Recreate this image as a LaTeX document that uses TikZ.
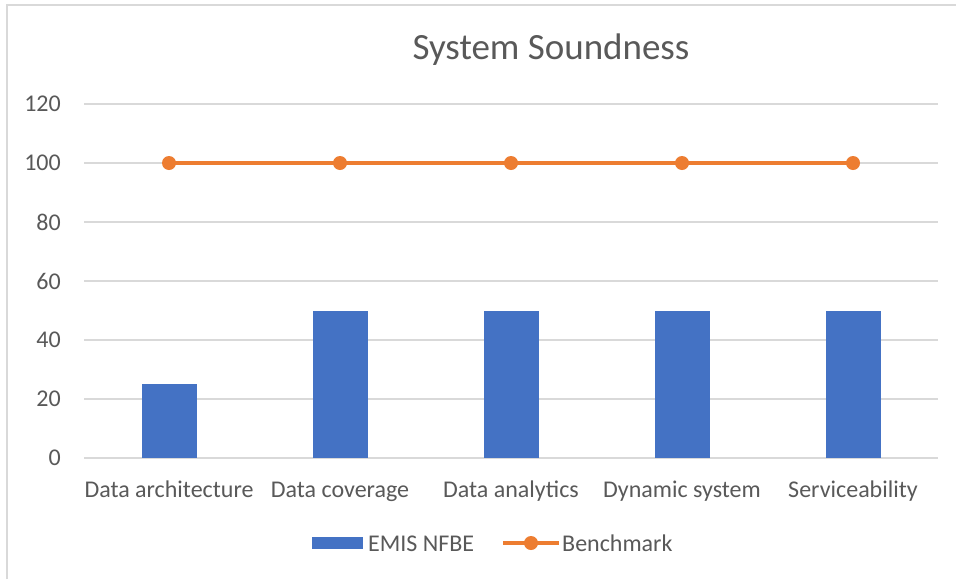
\documentclass[tikz,border=0pt]{standalone}
\usepackage{fontspec}
\setmainfont{Carlito}
\usepackage{xcolor}
\definecolor{barblue}{RGB}{68,114,196}
\definecolor{benchorange}{RGB}{237,125,49}
\definecolor{gridgray}{RGB}{217,217,217}
\definecolor{textgray}{RGB}{89,89,89}

\begin{document}
\begin{tikzpicture}[x=1pt,y=-1pt,
  lbl/.style={text=textgray,font=\fontsize{24}{28}\selectfont,inner sep=0pt},
  marker/.style={circle,fill=benchorange,minimum size=14pt,inner sep=0pt}]

% Frame
\useasboundingbox (0,0) rectangle (956,579);
\fill[white] (0,0) rectangle (956,579);
\draw[gridgray,line width=2pt] (7,579) -- (7,5) -- (956,5);

% Title
\node[lbl,font=\fontsize{37}{42}\selectfont] (title) at (551,50) {System Soundness};

% Y-axis ticks + grid lines
\foreach \v in {0,20,...,120} {
    \pgfmathsetmacro{\yy}{458-2.95*\v}
    \draw[gridgray,line width=1.3pt] (84,\yy) -- (938,\yy);
    \node[lbl,anchor=east] (tick\v) at (61,\yy) {\v};
}

% Bars (EMIS NFBE)
\def\bw{27.5}
\foreach \i/\x/\v in {1/169/25,2/340/50,3/511/50,4/682/50,5/853/50} {
    \fill[barblue] (\x-\bw,458) rectangle (\x+\bw,{458-2.95*\v});
}

% Benchmark line
\foreach \i/\x in {1/169,2/340,3/511,4/682,5/853} {
    \coordinate (b\i) at (\x,163);
}
\draw[benchorange,line width=4pt] (b1) -- (b2) -- (b3) -- (b4) -- (b5);
\foreach \i in {1,...,5} {
    \node[marker] (m\i) at (b\i) {};
}

% X labels
\node[lbl,anchor=base] (cat1) at (169,497) {Data architecture};
\node[lbl,anchor=base] (cat2) at (340,497) {Data coverage};
\node[lbl,anchor=base] (cat3) at (511,497) {Data analytics};
\node[lbl,anchor=base] (cat4) at (682,497) {Dynamic system};
\node[lbl,anchor=base] (cat5) at (853,497) {Serviceability};

% Legend
\fill[barblue] (312,537) rectangle (363,549);
\node[lbl,anchor=base west] (leg1) at (368,551) {EMIS NFBE};
\coordinate (l1) at (503,543);
\coordinate (l2) at (559,543);
\draw[benchorange,line width=4pt] (l1) -- (l2);
\node[marker] (lm) at (531,543) {};
\node[lbl,anchor=base west] (leg2) at (562,551) {Benchmark};

\end{tikzpicture}
\end{document}
